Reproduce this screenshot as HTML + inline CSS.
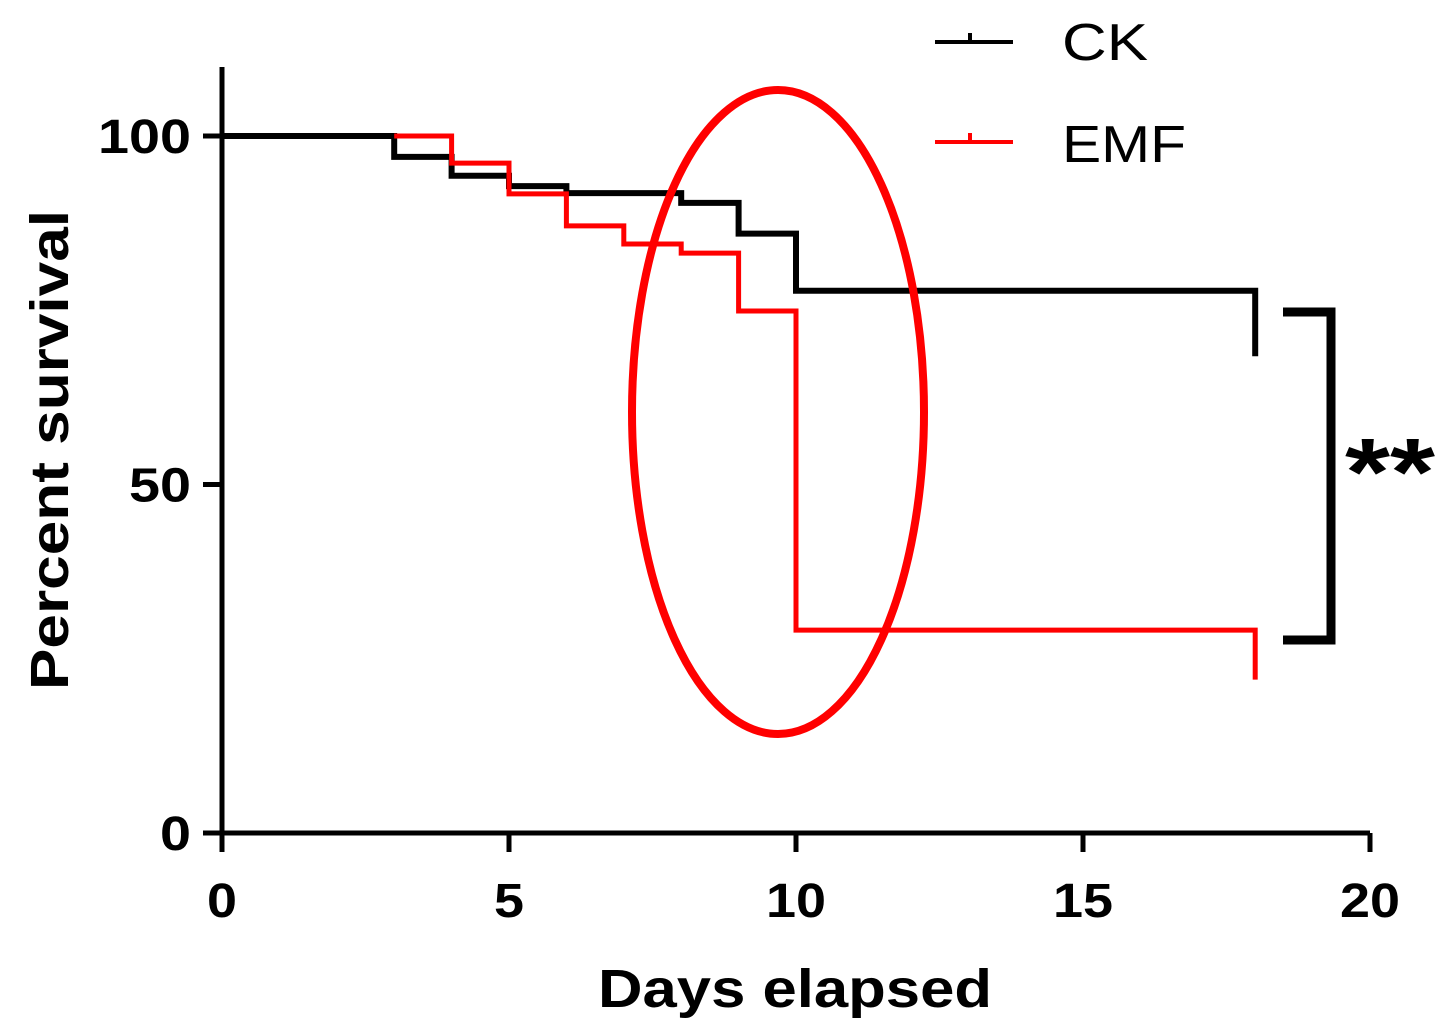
<!DOCTYPE html>
<html><head><meta charset="utf-8"><style>
html,body{margin:0;padding:0;background:#fff;}
svg{display:block;font-family:"Liberation Sans",Arial,sans-serif;}
</style></head><body>
<svg id="chart" width="1456" height="1036" viewBox="0 0 1456 1036" xmlns="http://www.w3.org/2000/svg">
<g id="axes"></g>
<g id="series"></g>
<ellipse cx="778" cy="412" rx="146" ry="322" fill="none" stroke="#ff0000" stroke-width="8"/>
<path d="M1283 312 H1331 V640 H1283" fill="none" stroke="#000" stroke-width="9"/>
<text x="1345" y="505" font-size="96" font-weight="bold" textLength="90" lengthAdjust="spacingAndGlyphs">**</text>
<g>
<g>
<path d="M935 42 H1013 M970 42 V33" stroke="#000" stroke-width="4" fill="none"/>
<text x="1062" y="60" font-size="52" textLength="86" lengthAdjust="spacingAndGlyphs">CK</text></g>
<g>
<path d="M935 142 H1013 M970 142 V133" stroke="#ff0000" stroke-width="4" fill="none"/>
<text x="1062" y="162" font-size="52" textLength="124" lengthAdjust="spacingAndGlyphs">EMF</text></g>
</g>
<text x="598" y="1007" font-size="54" font-weight="bold" textLength="394" lengthAdjust="spacingAndGlyphs">Days elapsed</text>
<text transform="translate(68,690) rotate(-90)" font-size="54" font-weight="bold" textLength="480" lengthAdjust="spacingAndGlyphs">Percent survival</text>
</svg>
<script>
const ckDays=[0,3,4,5,6,8,9,10,18];
const ckVals=[100,97.0,94.3,92.8,91.8,90.4,86.0,77.8,68.4];
const emfDays=[3,4,5,6,7,8,9,10,18];
const emfVals=[100,96.1,91.7,87.1,84.5,83.2,74.9,29.1,22.0];
const xTicks=[0,5,10,15,20];
const yTicks=[0,50,100];
const X0=222,X1=1370,Y0=833,Y100=136;
const sx=d=>X0+(X1-X0)*d/20;
const sy=v=>Y0-(Y0-Y100)*v/100;
const NS="http://www.w3.org/2000/svg";
const axes=document.getElementById('axes');
function mk(tag,attrs,parent){const e=document.createElementNS(NS,tag);for(const k in attrs)e.setAttribute(k,attrs[k]);parent.appendChild(e);return e;}
const ya=mk('path',{d:`M${X0} 67 V${Y0}`,stroke:'#000','stroke-width':5,fill:'none'},axes);


const xa=mk('path',{d:`M${X0} ${Y0} H${X1}`,stroke:'#000','stroke-width':5,fill:'none'},axes);


xTicks.forEach(t=>{
 const l=mk('path',{d:`M${sx(t)} ${Y0} V852`,stroke:'#000','stroke-width':5},axes);
 
 
 const s=String(t);
 const tx=mk('text',{x:sx(t),y:917,'font-size':48,'font-weight':'bold','text-anchor':'middle',textLength:30*s.length,lengthAdjust:'spacingAndGlyphs'},axes);
 tx.textContent=s;
 
 
});
yTicks.forEach(t=>{
 const l=mk('path',{d:`M203 ${sy(t)} H${X0}`,stroke:'#000','stroke-width':5},axes);
 
 
 const s=String(t);
 const tx=mk('text',{x:191,y:sy(t)+17,'font-size':48,'font-weight':'bold','text-anchor':'end',textLength:31*s.length,lengthAdjust:'spacingAndGlyphs'},axes);
 tx.textContent=s;
 
 
});
function stepPath(days,vals){
 let d=`M${sx(days[0])} ${sy(vals[0])}`;
 for(let i=1;i<days.length;i++){d+=` H${sx(days[i])} V${sy(vals[i])}`;}
 return d;
}
const series=document.getElementById('series');
const ck=mk('path',{d:stepPath(ckDays,ckVals),stroke:'#000','stroke-width':6,fill:'none'},series);


const emf=mk('path',{d:stepPath(emfDays,emfVals),stroke:'#ff0000','stroke-width':5,fill:'none'},series);


</script>
</body></html>
